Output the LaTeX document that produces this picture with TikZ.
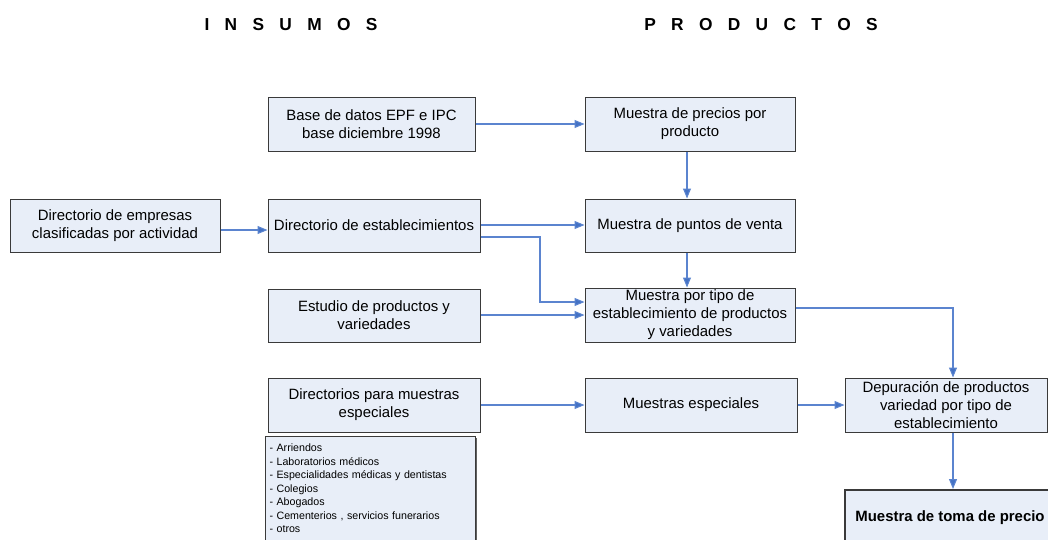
\documentclass[tikz,border=0pt]{standalone}
\usepackage{fontspec}
\setmainfont{Liberation Sans}
\usetikzlibrary{arrows.meta,shadows}
\definecolor{boxfill}{HTML}{E8EEF8}
\definecolor{boxline}{HTML}{3A3A3A}
\definecolor{arrline}{HTML}{5B84CF}
\definecolor{arrhead}{HTML}{4472C4}
\begin{document}
\begin{tikzpicture}[x=0.75pt,y=-0.75pt,
  bw/.style={minimum width=#1*0.75pt},
  bh/.style={minimum height=#1*0.75pt},
  box/.style={draw=boxline, line width=0.75pt, fill=boxfill, align=center, inner sep=1pt,
     font=\fontsize{11.2pt}{13.4pt}\selectfont,
     general shadow={fill=boxline!80, shadow xshift=0.75pt, shadow yshift=-0.75pt}},
  arr/.style={draw=arrline, line width=0.8pt, -{Triangle[length=7.5pt,width=6pt,fill=arrhead]}},
  hdr/.style={font=\fontsize{13pt}{15pt}\selectfont\bfseries}
]
\useasboundingbox (0,0) rectangle (1048,539);

\node[hdr] (hin) at (291,25) {\spaceskip=11.5pt I N S U M O S};
\node[hdr] (hpr) at (761,25) {\spaceskip=11.5pt P R O D U C T O S};

\node[box,bw=207,bh=54] (base) at (371.5,124) {Base de datos EPF e IPC\\base diciembre 1998};
\node[box,bw=210,bh=54] (prec) at (690,124) {Muestra de precios por\\producto};
\node[box,bw=210,bh=53] (emp) at (115,225.5) {Directorio de empresas\\clasificadas por actividad};
\node[box,bw=212,bh=53] (est) at (374,225.5) {Directorio de establecimientos};
\node[box,bw=210,bh=53] (pv) at (690,225.5) {Muestra de puntos de venta};
\node[box,bw=212,bh=53] (estu) at (374,315.5) {Estudio de productos y\\variedades};
\node[box,bw=210,bh=54,inner sep=0pt] (mpt) at (690,315) {Muestra por tipo de\\establecimiento de productos\\y variedades};
\node[box,bw=212,bh=54] (dir) at (374,405) {Directorios para muestras\\especiales};
\node[box,text width=202*0.75pt,minimum height=104*0.75pt,align=left,anchor=north west,inner xsep=3pt,inner ysep=2pt,
      font=\fontsize{8pt}{10.1pt}\selectfont] (lst) at (265,436)
  {- Arriendos\\- Laboratorios médicos\\- Especialidades médicas y dentistas\\- Colegios\\- Abogados\\- Cementerios , servicios funerarios\\- otros};
\node[box,bw=212,bh=54] (esp) at (691,405) {Muestras especiales};
\node[box,bw=202,bh=54,inner sep=0pt] (dep) at (946,405) {Depuración de productos\\variedad por tipo de\\establecimiento};
\node[box,bw=210,bh=55,line width=1.5pt,font=\fontsize{11.2pt}{13.4pt}\selectfont\bfseries] (toma) at (950,517.5) {Muestra de toma de precio};

\draw[arr] (base.east |- 0,124) -- (prec.west |- 0,124);
\draw[arr] (prec.south -| 687,0) -- (pv.north -| 687,0);
\draw[arr] (emp.east |- 0,230) -- (est.west |- 0,230);
\draw[arr] (est.east |- 0,225) -- (pv.west |- 0,225);
\coordinate (k1) at (540,237);
\coordinate (k2) at (540,302);
\draw[arr] (est.east |- k1) -- (k1) -- (k2) -- (mpt.west |- k2);
\draw[arr] (pv.south -| 687,0) -- (mpt.north -| 687,0);
\draw[arr] (estu.east |- 0,315) -- (mpt.west |- 0,315);
\coordinate (k3) at (953,308);
\draw[arr] (mpt.east |- k3) -- (k3) -- (k3 |- dep.north);
\draw[arr] (dir.east |- 0,405) -- (esp.west |- 0,405);
\draw[arr] (esp.east |- 0,405) -- (dep.west |- 0,405);
\draw[arr] (dep.south -| 953,0) -- (toma.north -| 953,0);
\end{tikzpicture}
\end{document}
